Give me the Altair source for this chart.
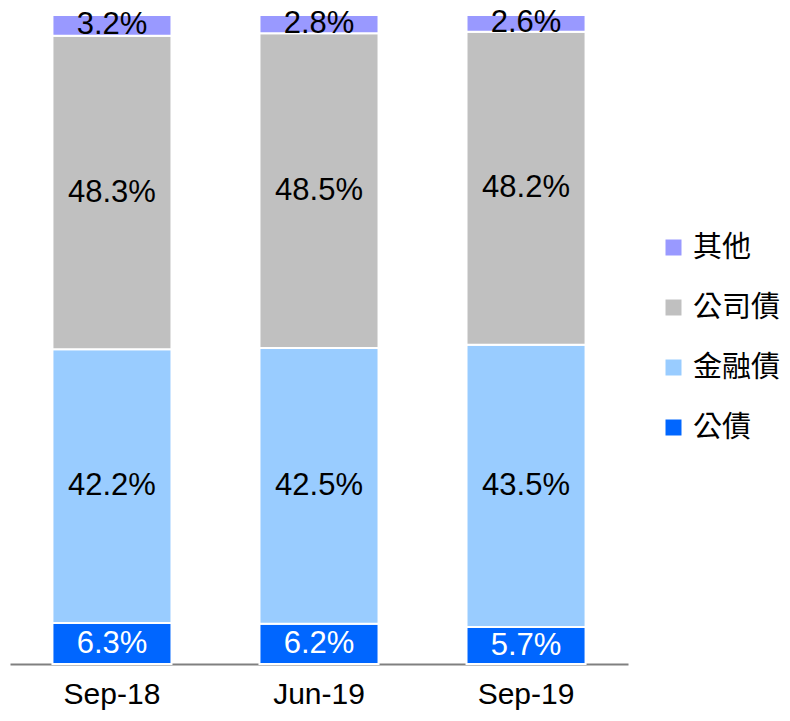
import altair as alt
import pandas as pd

periods = ["Sep-18", "Jun-19", "Sep-19"]
series = ["公債", "金融債", "公司債", "其他"]
gong_zhai = [6.3, 6.2, 5.7]
jin_rong = [42.2, 42.5, 43.5]
gong_si = [48.3, 48.5, 48.2]
qi_ta = [3.2, 2.8, 2.6]
colors = ["#0066FF", "#99CCFF", "#C0C0C0", "#9999FF"]
text_colors = ["white", "black", "black", "black"]

values = [gong_zhai, jin_rong, gong_si, qi_ta]
rows = []
for si, (name, vals) in enumerate(zip(series, values)):
    for p, v in zip(periods, vals):
        rows.append({"period": p, "series": name, "value": v, "order": si,
                     "label": f"{v:.1f}%", "tcolor": text_colors[si]})
df = pd.DataFrame(rows)

legend_order = ["其他", "公司債", "金融債", "公債"]
color_scale = alt.Scale(domain=legend_order,
                        range=[colors[3], colors[2], colors[1], colors[0]])

x = alt.X("period:N", sort=periods, title=None,
          scale=alt.Scale(paddingInner=0.425, paddingOuter=0.205),
          axis=alt.Axis(labelAngle=0, labelFontSize=30, labelFont="Liberation Sans",
                        labelColor="black", ticks=False, domainColor="#808080",
                        domainWidth=2, labelPadding=15))

bars = alt.Chart(df).mark_bar(stroke="white", strokeWidth=2).encode(
    x=x,
    y=alt.Y("value:Q", stack="zero", scale=alt.Scale(domain=[0, 100], nice=False),
            axis=None),
    color=alt.Color("series:N", scale=color_scale, sort=legend_order,
                    legend=alt.Legend(title=None, orient="none", legendX=649, legendY=218,
                                      symbolType="square", symbolSize=256,
                                      symbolStrokeWidth=0,
                                      labelFontSize=29, labelFont="Noto Sans CJK TC",
                                      labelColor="black", rowPadding=30,
                                      labelOffset=5)),
    order=alt.Order("order:Q", sort="ascending"),
)

texts = alt.Chart(df).transform_stack(
    stack="value", groupby=["period"], as_=["y0", "y1"],
    sort=[alt.SortField("order", "ascending")]
).transform_calculate(
    mid="(datum.y0 + datum.y1) / 2"
).mark_text(fontSize=31, font="Liberation Sans", baseline="middle").encode(
    x=alt.X("period:N", sort=periods),
    y=alt.Y("mid:Q", axis=None),
    text="label:N",
    color=alt.Color("tcolor:N", scale=None),
)

chart = alt.layer(bars, texts).properties(
    width=618, height=649,
    autosize=alt.AutoSizeParams(type="none"),
    padding={"left": 2, "top": 7, "right": 154, "bottom": 49},
).configure_view(stroke=None)

chart.save("out.html", embed_options={"renderer": "svg", "actions": False})
